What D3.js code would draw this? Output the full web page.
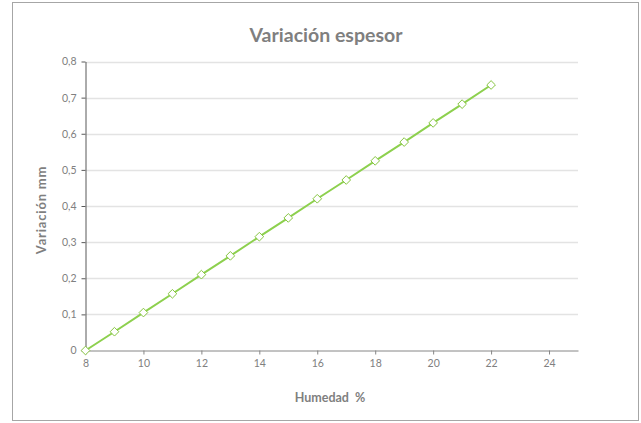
<!DOCTYPE html>
<html>
<head>
<meta charset="utf-8">
<script src="https://cdn.jsdelivr.net/npm/d3@7"></script>
<style>
  body { margin: 0; background: #fff; }
  text { font-family: Lato, "Open Sans", sans-serif; }
</style>
</head>
<body>
<div id="chart"></div>
<script>
// chart size
var width = 641;
var height = 423;

// data
var humedad = [8, 9, 10, 11, 12, 13, 14, 15, 16, 17, 18, 19, 20, 21, 22];
var variacion = [0, 0.052, 0.105, 0.157, 0.21, 0.262, 0.315, 0.367, 0.42, 0.472, 0.525, 0.577, 0.63, 0.682, 0.735];
var xTicks = [8, 10, 12, 14, 16, 18, 20, 22, 24];
var yTicks = [0, 0.1, 0.2, 0.3, 0.4, 0.5, 0.6, 0.7, 0.8];

var points = humedad.map(function(h, i) { return { x: h, y: variacion[i] }; });

var svg = d3.select("#chart")
    .append("svg")
    .attr("width", width)
    .attr("height", height);

// outer frame
svg.append("rect")
    .attr("x", 12.5)
    .attr("y", 2.5)
    .attr("width", 626)
    .attr("height", 418)
    .style("fill", "#fff")
    .style("stroke", "#a6a6a6")
    .style("stroke-width", 1);

var x = d3.scaleLinear().domain([8, 25]).range([85.5, 578]);
var y = d3.scaleLinear().domain([0, 0.8]).range([350.5, 61.5]);

var comma = function(d) { return String(d).replace(".", ","); };

// grid lines
svg.append("g")
    .selectAll("line")
    .data(yTicks.slice(1))
    .enter()
    .append("line")
    .attr("x1", x(8))
    .attr("x2", x(25))
    .attr("y1", function(d) { return Math.round(y(d)) + 0.5; })
    .attr("y2", function(d) { return Math.round(y(d)) + 0.5; })
    .style("stroke", "#e3e3e3")
    .style("stroke-width", 1.5);

// x axis
var xAxis = svg.append("g")
    .attr("transform", "translate(0," + y(0) + ")")
    .call(d3.axisBottom(x).tickValues(xTicks).tickSize(4).tickSizeOuter(0).tickFormat(comma));
xAxis.select(".domain").style("stroke", "#868686");
xAxis.selectAll(".tick line").style("stroke", "#868686");
xAxis.selectAll(".tick text")
    .attr("y", 9)
    .style("font-size", "10.5px")
    .style("fill", "#808080");

// y axis
var yAxis = svg.append("g")
    .attr("transform", "translate(" + x(8) + ",0)")
    .call(d3.axisLeft(y).tickValues(yTicks).tickSize(4).tickSizeOuter(0).tickFormat(comma));
yAxis.select(".domain").style("stroke", "#595959");
yAxis.selectAll(".tick line").style("stroke", "#595959");
yAxis.selectAll(".tick text")
    .attr("x", -9)
    .style("font-size", "10.5px")
    .style("fill", "#808080");

// line
var line = d3.line()
    .x(function(d) { return x(d.x); })
    .y(function(d) { return y(d.y); });

svg.append("path")
    .datum(points)
    .attr("d", line)
    .style("fill", "none")
    .style("stroke", "#8dd04e")
    .style("stroke-width", 2);

// diamond markers
var diamond = d3.symbol().type(d3.symbolDiamond2).size(48);
svg.selectAll(".marker")
    .data(points)
    .enter()
    .append("path")
    .attr("class", "marker")
    .attr("d", diamond)
    .attr("transform", function(d) { return "translate(" + x(d.x) + "," + y(d.y) + ")"; })
    .style("fill", "#fff")
    .style("stroke", "#86c540")
    .style("stroke-width", 1);

// titles
svg.append("text")
    .attr("x", 326)
    .attr("y", 42)
    .attr("text-anchor", "middle")
    .style("font-size", "19.5px")
    .style("font-weight", "bold")
    .style("fill", "#7f7f7f")
    .text("Variación espesor");

svg.append("text")
    .attr("x", 330)
    .attr("y", 402)
    .attr("text-anchor", "middle")
    .style("font-size", "12.5px")
    .style("font-weight", "bold")
    .style("fill", "#7f7f7f")
    .style("white-space", "pre")
    .text("Humedad  %");

svg.append("text")
    .attr("transform", "translate(46,210) rotate(-90)")
    .attr("text-anchor", "middle")
    .style("font-size", "13px")
    .style("font-weight", "bold")
    .style("letter-spacing", "0.8px")
    .style("fill", "#7f7f7f")
    .text("Variación mm");
</script>
</body>
</html>
